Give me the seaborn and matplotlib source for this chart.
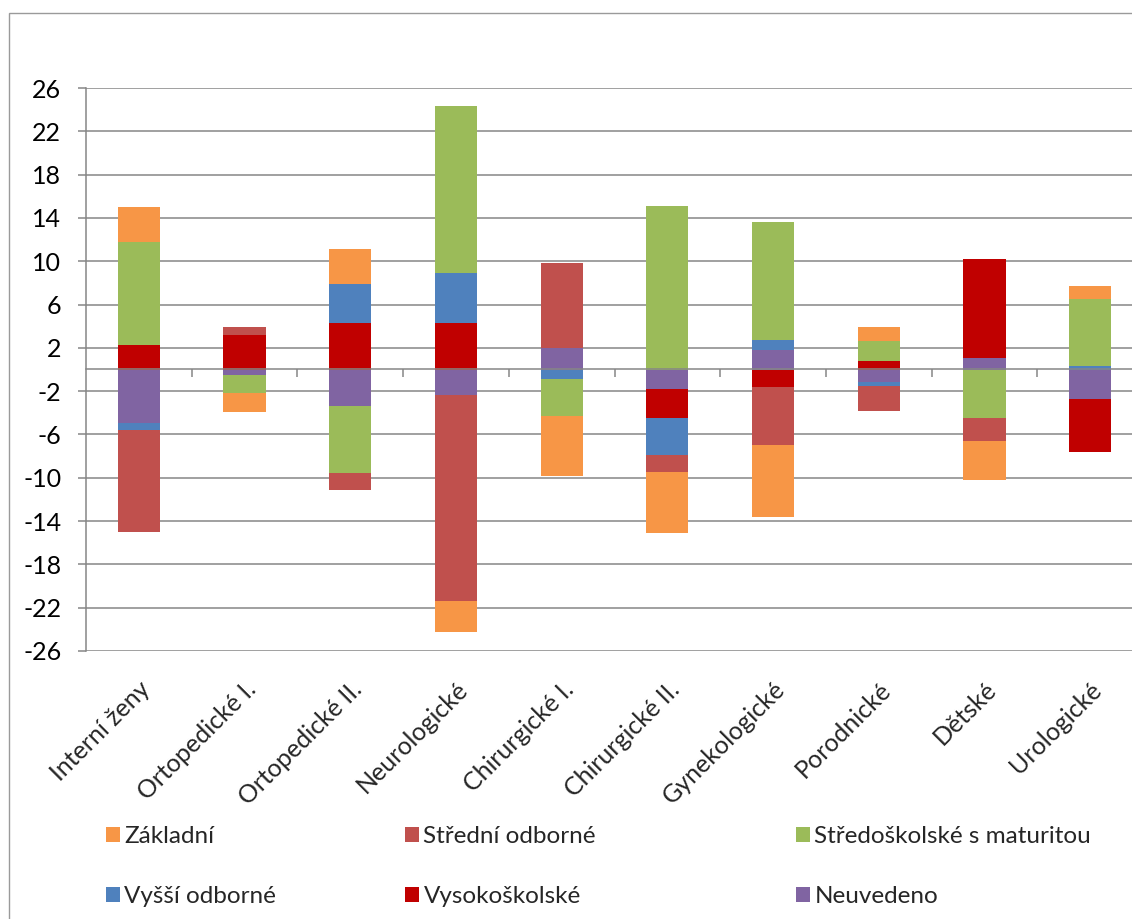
import numpy as np
import matplotlib
matplotlib.use("Agg")
import matplotlib.pyplot as plt
import matplotlib.transforms as mtransforms
from matplotlib.patches import Patch, Rectangle
import seaborn as sns

# ---------------- data ----------------
categories = ["Interní ženy", "Ortopedické I.", "Ortopedické II.", "Neurologické",
              "Chirurgické I.", "Chirurgické II.", "Gynekologické", "Porodnické",
              "Dětské", "Urologické"]

zakladni        = [3.2, -1.7, 3.2, -2.8, -5.5, -5.6, -6.6, 1.3, -3.6, 1.2]
stredni_odborne = [-9.4, 0.7, -1.5, -19.0, 7.8, -1.6, -5.4, -2.3, -2.1, 0.0]
stredoskolske   = [9.5, -1.7, -6.2, 15.4, -3.4, 15.1, 10.9, 1.8, -4.5, 6.2]
vyssi_odborne   = [-0.7, 0.0, 3.6, 4.6, -0.9, -3.4, 0.9, -0.3, 0.0, 0.3]
vysokoskolske   = [2.3, 3.2, 4.3, 4.3, 0.0, -2.7, -1.6, 0.8, 9.1, -4.9]
neuvedeno       = [-4.9, -0.5, -3.4, -2.4, 2.0, -1.8, 1.8, -1.2, 1.1, -2.7]

series_names = ["Základní", "Střední odborné", "Středoškolské s maturitou",
                "Vyšší odborné", "Vysokoškolské", "Neuvedeno"]
series_values = [zakladni, stredni_odborne, stredoskolske,
                 vyssi_odborne, vysokoskolske, neuvedeno]
colors = ["#F79646", "#C0504D", "#9BBB59", "#4F81BD", "#C00000", "#8064A2"]
y_ticks = list(range(-26, 27, 4))

# ---------------- style ----------------
sns.set_style("white")
plt.rcParams['font.family'] = ['Lato', 'DejaVu Sans']
GRAY = "#868686"

W, H = 1132, 919
fig = plt.figure(figsize=(W / 100, H / 100), dpi=100, facecolor="white")
ax = fig.add_axes([86 / W, 1 - 651 / H, (1143 - 86) / W, (651 - 88) / H])

vals = np.array(series_values, dtype=float)
order = list(range(len(series_names)))[::-1]   # stacked from zero outward
pos = np.clip(vals, 0, None)[order]
neg = np.clip(vals, None, 0)[order]
cum_pos = np.cumsum(pos, axis=0)
cum_neg = np.cumsum(neg, axis=0)

for k in reversed(range(len(order))):
    s = order[k]
    for cum in (cum_pos, cum_neg):
        sns.barplot(x=categories, y=cum[k], order=categories, color=colors[s],
                    width=0.4, saturation=1, errorbar=None, linewidth=0, ax=ax)

ax.set_xlim(-0.5, len(categories) - 0.5)
ax.set_ylim(-26, 26)
ax.set_yticks(y_ticks)
ax.set_yticklabels([str(t) for t in y_ticks])
ax.set_xlabel("")
ax.set_ylabel("")
ax.yaxis.grid(True, color=GRAY, linewidth=1.1)
ax.xaxis.grid(False)
ax.set_axisbelow(True)
for sp in ["top", "right", "bottom"]:
    ax.spines[sp].set_visible(False)
ax.spines["left"].set_color(GRAY)
ax.spines["left"].set_linewidth(1.1)

ax.tick_params(axis="y", left=True, length=5.8, width=1.1, color=GRAY,
               labelsize=18, pad=12, labelcolor="black")
ax.set_xticks(range(len(categories)))
ax.set_xticklabels(categories, rotation=45, ha="right", va="center",
                   rotation_mode="anchor", fontsize=18)
ax.tick_params(axis="x", length=0, pad=25)
offset = mtransforms.ScaledTranslation(8 / 100, 0, fig.dpi_scale_trans)
for lbl in ax.get_xticklabels():
    lbl.set_transform(lbl.get_transform() + offset)

# zero axis with category separators
sec = ax.secondary_xaxis(0.5)
sec.set_xticks(np.arange(len(categories) - 1) + 0.5)
sec.tick_params(axis="x", direction="in", length=5.8, width=1.1, color=GRAY,
                labeltop=False, labelbottom=False)
for sp in sec.spines.values():
    sp.set_color(GRAY)
    sp.set_linewidth(1.1)
sec.set_zorder(5)

# legend: three columns of two
handles = {n: Patch(facecolor=c, edgecolor="none") for n, c in zip(series_names, colors)}
cols = [["Základní", "Vyšší odborné"],
        ["Střední odborné", "Vysokoškolské"],
        ["Středoškolské s maturitou", "Neuvedeno"]]
col_x = [106, 405, 796]
for names, x in zip(cols, col_x):
    fig.legend([handles[n] for n in names], names, loc="upper left",
               bbox_to_anchor=(x / W, 1 - 826 / H), frameon=False,
               borderpad=0, borderaxespad=0, fontsize=17.5,
               handlelength=0.56, handleheight=0.56, handletextpad=0.2,
               labelspacing=1.6)

# chart outer border (left & top visible)
fig.add_artist(Rectangle((9 / W, -0.1), 1.2, 1 - 13 / H + 0.1,
                         transform=fig.transFigure, fill=False,
                         edgecolor="#9a9a9a", linewidth=1))

fig.savefig("out.png", dpi=100, facecolor="white")
